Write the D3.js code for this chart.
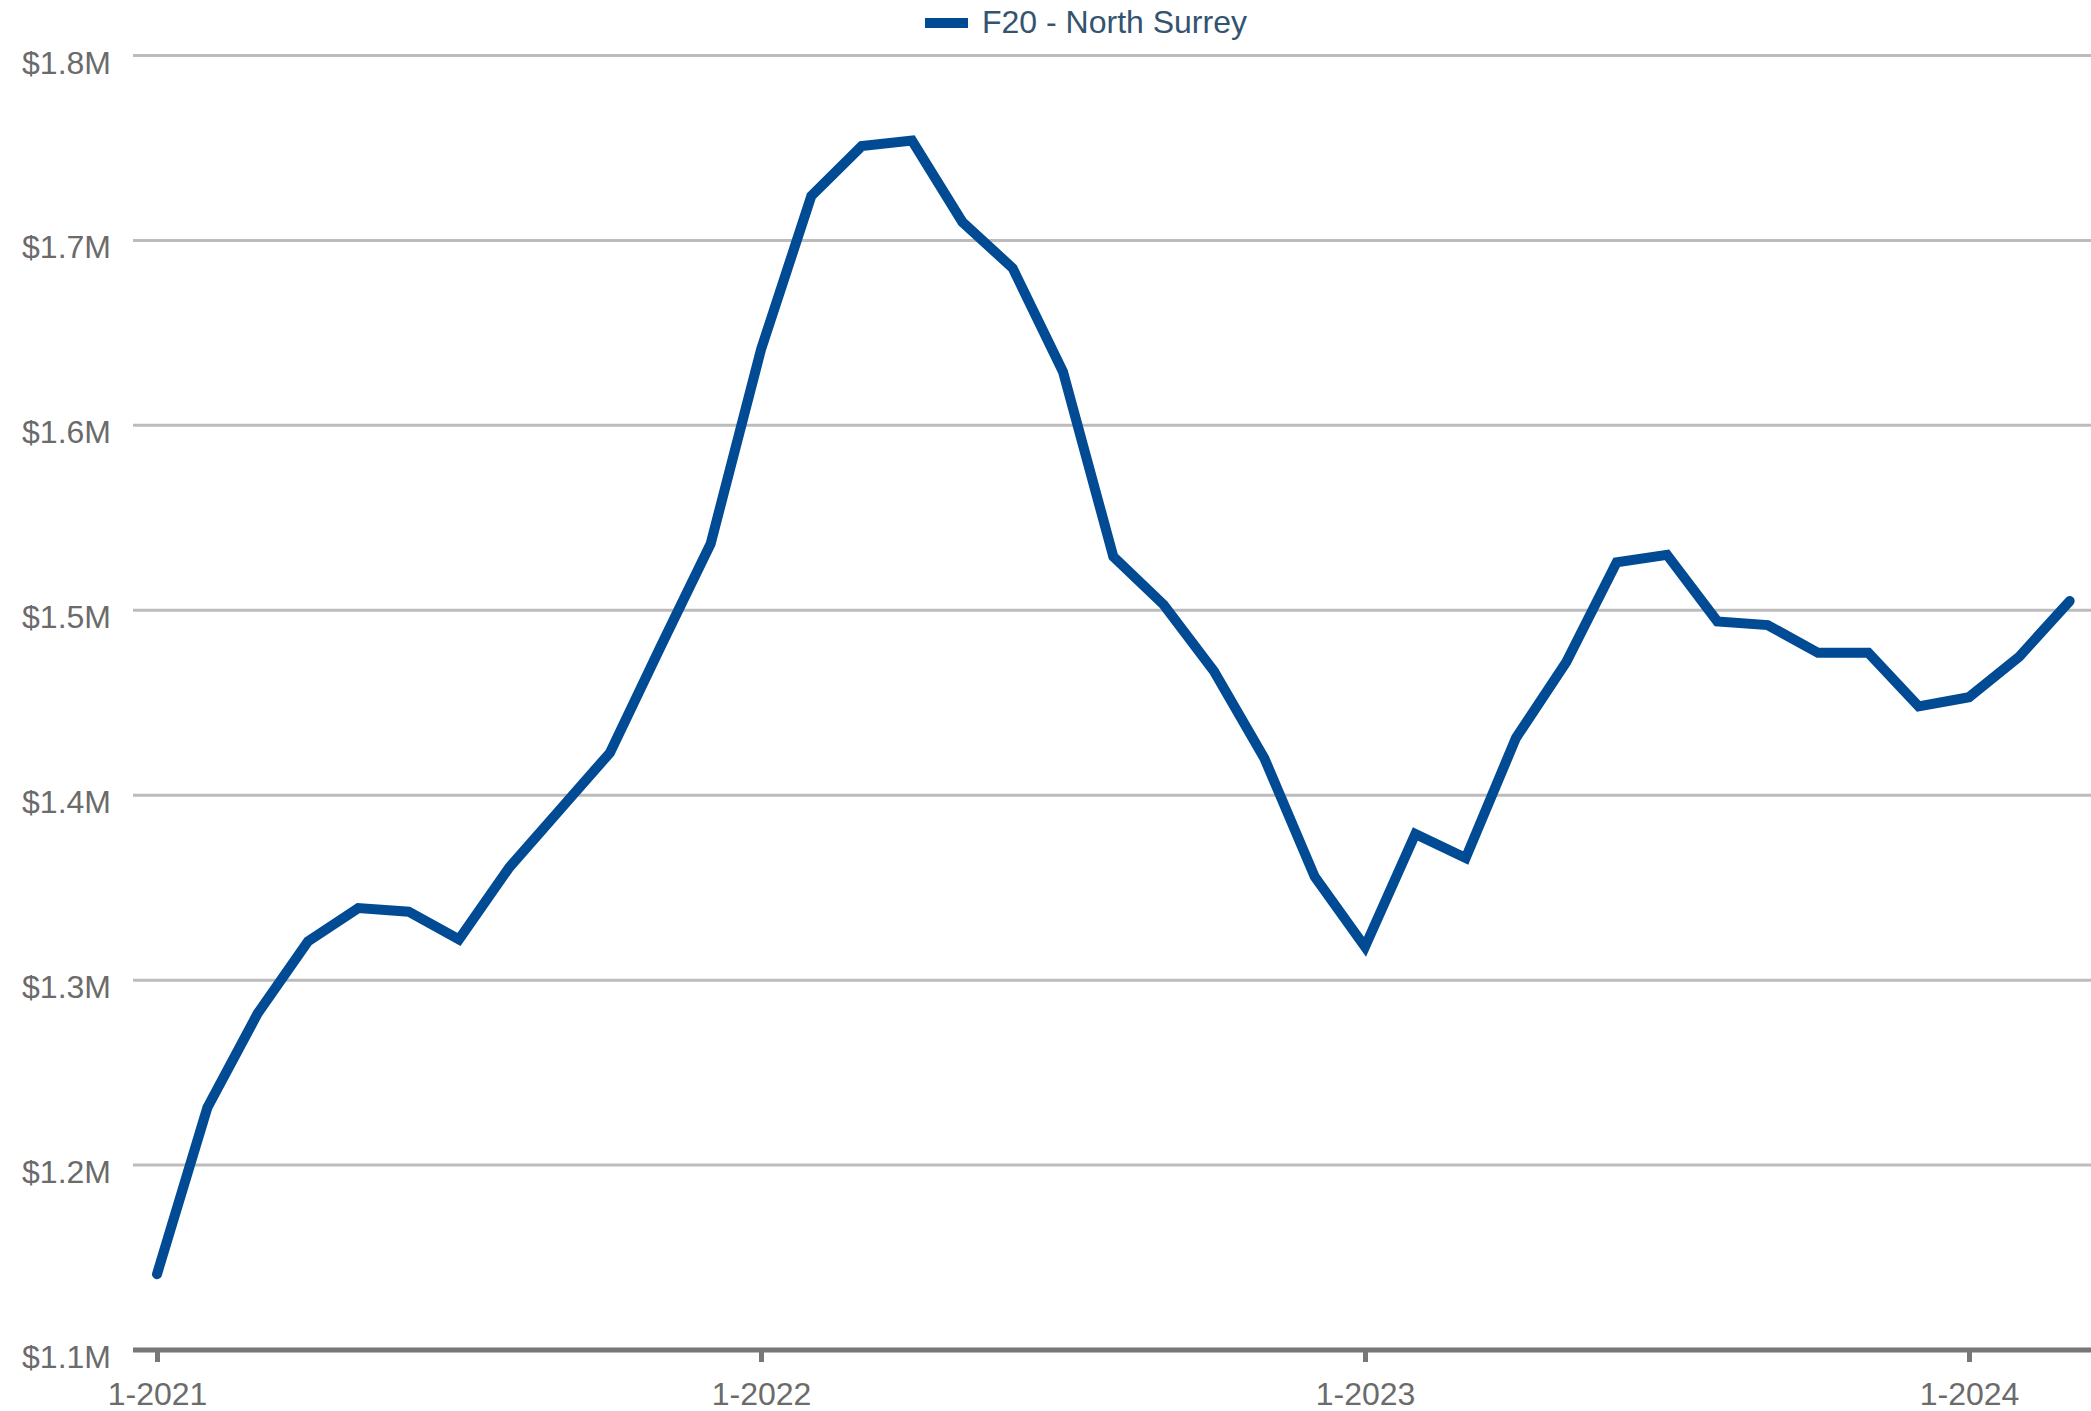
<!DOCTYPE html>
<html>
<head>
<meta charset="utf-8">
<script src="https://cdn.jsdelivr.net/npm/d3@7"></script>
<style>
  html, body { margin: 0; padding: 0; background: #fff; }
  svg { display: block; font-family: "Liberation Sans", Arial, sans-serif; }
</style>
</head>
<body>
<div id="chart"></div>
<script>
// monthly values, Jan 2021 .. Mar 2024 (in $M)
var months = [
  "1-2021","2-2021","3-2021","4-2021","5-2021","6-2021","7-2021","8-2021","9-2021","10-2021","11-2021","12-2021",
  "1-2022","2-2022","3-2022","4-2022","5-2022","6-2022","7-2022","8-2022","9-2022","10-2022","11-2022","12-2022",
  "1-2023","2-2023","3-2023","4-2023","5-2023","6-2023","7-2023","8-2023","9-2023","10-2023","11-2023","12-2023",
  "1-2024","2-2024","3-2024"
];
var values = [
  1.141, 1.231, 1.282, 1.321, 1.339, 1.337, 1.322, 1.361, 1.392, 1.423, 1.480, 1.536,
  1.641, 1.724, 1.751, 1.754, 1.710, 1.685, 1.629, 1.529, 1.503, 1.467, 1.420, 1.356,
  1.318, 1.379, 1.366, 1.431, 1.472, 1.526, 1.530, 1.494, 1.492, 1.477, 1.477, 1.448,
  1.453, 1.475, 1.505
];
var seriesName = "F20 - North Surrey";
var yTicks = [1.1, 1.2, 1.3, 1.4, 1.5, 1.6, 1.7, 1.8];
var xTickLabels = ["1-2021", "1-2022", "1-2023", "1-2024"];

var width = 2091, height = 1411;
var left = 133, axisY = 1350;

var svg = d3.select("#chart").append("svg")
    .attr("width", width)
    .attr("height", height);

// month index -> x, first Jan sits at 157 and each year is ~604px
var x = d3.scaleLinear()
    .domain([0, 36])
    .range([157, 1969]);

var y = d3.scaleLinear()
    .domain([1.1, 1.8])
    .range([axisY, 55.5]);

// gridlines
svg.append("g")
  .selectAll("line")
  .data(yTicks.slice(1))
  .join("line")
    .attr("x1", left)
    .attr("x2", width)
    .attr("y1", function(d) { return y(d); })
    .attr("y2", function(d) { return y(d); })
    .attr("stroke", "#bcbcbc")
    .attr("stroke-width", 3);

// y labels sit a bit below their gridline
svg.append("g")
  .selectAll("text")
  .data(yTicks)
  .join("text")
    .attr("x", 111)
    .attr("y", function(d) { return y(d) + 18; })
    .attr("text-anchor", "end")
    .attr("fill", "#6b6b6b")
    .style("font-size", "32px")
    .text(function(d) { return "$" + d3.format(".1f")(d) + "M"; });

// x axis
var xAxis = d3.axisBottom(x)
    .tickValues(xTickLabels.map(function(l) { return months.indexOf(l); }))
    .tickFormat(function(i) { return months[i]; })
    .tickSize(12)
    .tickPadding(20);

var gx = svg.append("g")
    .attr("transform", "translate(0," + axisY + ")")
    .call(xAxis);

gx.select(".domain").remove();
gx.insert("line", ":first-child")
    .attr("x1", left)
    .attr("x2", width)
    .attr("stroke", "#777")
    .attr("stroke-width", 5);
gx.selectAll(".tick line")
    .attr("stroke", "#777")
    .attr("stroke-width", 5);
gx.selectAll(".tick text")
    .attr("fill", "#6b6b6b")
    .style("font-size", "32px")
    .style("font-family", "'Liberation Sans', Arial, sans-serif");

// series line
var line = d3.line()
    .x(function(d, i) { return x(i); })
    .y(function(d) { return y(d); });

svg.append("path")
    .datum(values)
    .attr("d", line)
    .attr("fill", "none")
    .attr("stroke", "#004b93")
    .attr("stroke-width", 10)
    .attr("stroke-linejoin", "miter")
    .attr("stroke-linecap", "round");

// legend
var legend = svg.append("g");
legend.append("line")
    .attr("x1", 925)
    .attr("x2", 968)
    .attr("y1", 23)
    .attr("y2", 23)
    .attr("stroke", "#004b93")
    .attr("stroke-width", 10);
legend.append("text")
    .attr("x", 982)
    .attr("y", 33)
    .attr("fill", "#34536f")
    .style("font-size", "32px")
    .text(seriesName);
</script>
</body>
</html>
